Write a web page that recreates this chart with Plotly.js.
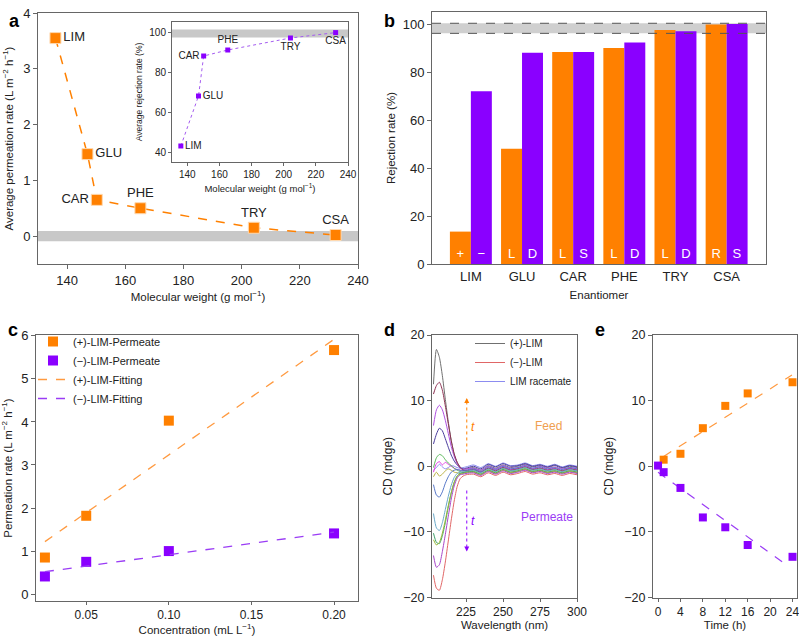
<!DOCTYPE html>
<html>
<head>
<meta charset="utf-8">
<script src="https://cdn.plot.ly/plotly-3.0.1.min.js"></script>
<style>
  body { margin: 0; background: #fff; }
  #fig { width: 799px; height: 636px; }
</style>
</head>
<body>
<div id="fig"></div>
<script>
// ---- panel a : permeation rate vs molecular weight ----
var molNames = ['LIM', 'GLU', 'CAR', 'PHE', 'TRY', 'CSA'];
var molWeight = [136, 147, 150.2, 165.2, 204.2, 232.3];
var avgPermeation = [3.55, 1.47, 0.65, 0.50, 0.15, 0.02];
// inset: average rejection rate
var avgRejection = [43, 68, 88, 91, 97, 99.7];

// ---- panel b : rejection of each enantiomer ----
var enantiomers = ['LIM', 'GLU', 'CAR', 'PHE', 'TRY', 'CSA'];
var rejOrange = [13.5, 48, 88.3, 90, 97.5, 99.8];
var rejPurple = [72, 88, 88.3, 92.3, 97, 100];
var labOrange = ['+', 'L', 'L', 'L', 'L', 'R'];
var labPurple = ['\u2212', 'D', 'S', 'D', 'D', 'S'];

// ---- panel c : permeation rate vs concentration ----
var conc = [0.025, 0.05, 0.10, 0.20];
var plusPerm = [0.85, 1.82, 4.03, 5.67];
var minusPerm = [0.41, 0.75, 1.00, 1.41];
var fitConc = [0.025, 0.20];
var plusFit = [1.22, 5.92];
var minusFit = [0.52, 1.44];

// ---- panel d : CD spectra ----
var wl = [203, 205, 207, 209, 211, 213, 215, 217, 219, 221, 223, 225, 230, 235, 240, 245, 250, 255, 260, 265, 270, 275, 280, 285, 290, 295, 300];
var cdPlusLim  = [12.5, 17.8, 16.6, 13.8, 10.2, 6.8, 3.9, 1.8, 0.6, -0.1, -0.5, -0.4, -0.2, -0.6, 0.1, -0.3, 0.2, -0.2, 0.0, 0.3, -0.1, 0.1, -0.2, 0.1, -0.3, 0.0, -0.2];
var cdMinusLim = [-16.6, -18.6, -18.9, -17.3, -14.6, -11.4, -8.2, -5.3, -3.1, -1.9, -1.5, -1.3, -1.2, -1.6, -1.0, -1.4, -0.9, -1.3, -1.1, -0.8, -1.2, -1.0, -1.3, -1.1, -1.4, -1.1, -1.3];
var cdRacemate = [-0.6, -0.2, 0.3, -0.1, -0.4, -0.2, 0.1, 0.0, -0.2, -0.3, -0.2, -0.1, 0.2, -0.2, 0.4, 0.0, 0.5, 0.1, 0.2, 0.5, 0.1, 0.3, 0.0, 0.3, -0.1, 0.2, 0.0];
var cdFeed2 = [11.0, 12.3, 12.8, 11.6, 9.2, 6.5, 3.9, 1.9, 0.6, -0.2, -0.6, -0.7, -0.5, -0.9, -0.3, -0.7, -0.2, -0.6, -0.4, -0.1, -0.5, -0.3, -0.6, -0.4, -0.7, -0.4, -0.6];
var cdFeed3 = [6.2, 8.6, 9.3, 8.6, 7.0, 5.0, 3.0, 1.5, 0.4, -0.2, -0.5, -0.4, -0.3, -0.6, 0.0, -0.4, 0.1, -0.3, -0.2, 0.2, -0.3, 0.0, -0.3, -0.1, -0.4, -0.2, -0.3];
var cdFeed4 = [3.4, 4.9, 5.8, 5.4, 4.2, 2.9, 1.7, 0.8, 0.2, -0.2, -0.4, -0.3, 0.0, -0.4, 0.3, -0.1, 0.4, 0.0, 0.1, 0.4, 0.0, 0.2, -0.1, 0.2, -0.2, 0.1, -0.1];
var cdFeed5 = [-0.2, 1.3, 1.8, 1.6, 1.0, 0.5, 0.1, -0.3, -0.6, -0.8, -0.9, -0.8, -0.6, -1.0, -0.4, -0.8, -0.3, -0.7, -0.5, -0.2, -0.6, -0.4, -0.7, -0.5, -0.8, -0.5, -0.7];
var cdFeed6 = [-0.9, 0.4, 0.7, 0.2, 0.6, 0.3, 0.0, -0.3, -0.5, -0.6, -0.7, -0.6, -0.4, -0.8, -0.2, -0.6, -0.1, -0.5, -0.3, 0.0, -0.4, -0.2, -0.5, -0.3, -0.6, -0.3, -0.5];
var cdFeed7 = [-1.6, -0.9, -1.5, -1.2, -0.7, -0.4, -0.6, -0.9, -1.0, -1.1, -1.0, -0.9, -0.8, -1.2, -0.6, -1.0, -0.5, -0.9, -0.7, -0.4, -0.8, -0.6, -0.9, -0.7, -1.0, -0.7, -0.9];
var cdPerm1 = [-2.8, -4.4, -4.7, -3.9, -2.6, -1.6, -0.9, -0.6, -0.5, -0.6, -0.7, -0.6, -0.4, -0.8, -0.1, -0.5, 0.0, -0.4, -0.2, 0.1, -0.3, -0.1, -0.4, -0.2, -0.5, -0.2, -0.4];
var cdPerm2 = [-7.2, -9.4, -9.8, -8.6, -6.6, -4.6, -2.9, -1.7, -1.1, -0.9, -0.9, -0.8, -0.6, -1.0, -0.4, -0.8, -0.3, -0.7, -0.5, -0.2, -0.6, -0.4, -0.7, -0.5, -0.8, -0.5, -0.7];
var cdPerm3 = [-10.2, -11.6, -11.8, -10.6, -8.6, -6.2, -4.1, -2.5, -1.5, -1.1, -1.0, -0.9, -0.8, -1.2, -0.6, -1.0, -0.5, -0.9, -0.7, -0.4, -0.8, -0.6, -0.9, -0.7, -1.0, -0.7, -0.9];
var cdPerm4 = [-11.2, -12.0, -11.6, -10.2, -8.2, -6.0, -4.0, -2.4, -1.5, -1.2, -1.1, -1.0, -0.9, -1.3, -0.7, -1.1, -0.6, -1.0, -0.8, -0.5, -0.9, -0.7, -1.0, -0.8, -1.1, -0.8, -1.0];
var cdPerm5 = [-13.6, -15.4, -15.0, -13.0, -10.4, -7.6, -5.0, -3.0, -1.8, -1.3, -1.2, -1.1, -1.0, -1.4, -0.8, -1.2, -0.7, -1.1, -0.9, -0.6, -1.0, -0.8, -1.1, -0.9, -1.2, -0.9, -1.1];

// ---- panel e : CD vs time ----
var timeFeed = [1, 4, 8, 12, 16, 24];
var cdFeedT = [1.0, 1.9, 5.8, 9.2, 11.1, 12.8];
var timePerm = [0, 1, 4, 8, 12, 16, 24];
var cdPermT = [0.1, -0.9, -3.3, -7.8, -9.3, -12.0, -13.8];
var fitFeedT = [1, 23.9];
var fitFeedY = [1.5, 13.9];
var fitPermT = [0, 23.2];
var fitPermY = [-0.9, -15.2];

var ORANGE = '#ff8000';
var PURPLE = '#8a00ff';
var AXC = '#666666';
var FONT = '"Liberation Sans", Arial, Helvetica, sans-serif';

// figure is 799 x 636 with zero margins -> domains from pixel boxes
function dx(a, b){ return [a / 799, b / 799]; }
function dy(top, bottom){ return [1 - bottom / 636, 1 - top / 636]; }

function axisStyle(extra){
	var ax = {
		showline: true, mirror: true, linecolor: AXC, linewidth: 1,
		ticks: 'outside', ticklen: 4, tickcolor: AXC,
		showgrid: false, zeroline: false, ticklabeloverflow: 'allow',
		tickfont: {size: 13, color: '#222'},
	};
	for (var k in extra) ax[k] = extra[k];
	return ax;
}

var traces = [];

// panel d legend traces first (primary legend)
traces.push({
	x: wl, y: cdPlusLim, xaxis: 'x5', yaxis: 'y5', type: 'scatter', mode: 'lines',
	name: '(+)-LIM', legend: 'legend', line: {color: '#707070', width: 1, shape: 'spline', smoothing: 0.6},
});
traces.push({
	x: wl, y: cdMinusLim, xaxis: 'x5', yaxis: 'y5', type: 'scatter', mode: 'lines',
	name: '(\u2212)-LIM', legend: 'legend', line: {color: '#e06666', width: 1, shape: 'spline', smoothing: 0.6},
});
traces.push({
	x: wl, y: cdRacemate, xaxis: 'x5', yaxis: 'y5', type: 'scatter', mode: 'lines',
	name: 'LIM racemate', legend: 'legend', line: {color: '#8c8cf0', width: 1, shape: 'spline', smoothing: 0.6},
});
var cdCurves = [
	[cdFeed7, '#b8b040'], [cdFeed6, '#e040e0'], [cdFeed5, '#5cb85c'], [cdFeed4, '#4a3c9c'],
	[cdFeed3, '#b050e0'], [cdFeed2, '#8b3050'], [cdPerm1, '#5878c8'], [cdPerm2, '#6aa8c8'],
	[cdPerm3, '#3fa06a'], [cdPerm4, '#9ab83a'], [cdPerm5, '#a845c8'],
];
for (var i = 0; i < cdCurves.length; i++){
	traces.push({
		x: wl, y: cdCurves[i][0], xaxis: 'x5', yaxis: 'y5', type: 'scatter', mode: 'lines',
		line: {color: cdCurves[i][1], width: 1, shape: 'spline', smoothing: 0.6}, showlegend: false,
	});
}

// panel a
traces.push({
	x: molWeight, y: avgPermeation, xaxis: 'x', yaxis: 'y',
	type: 'scatter', mode: 'lines+markers+text',
	text: molNames,
	textposition: ['middle right', 'middle right', 'middle left', 'top center', 'top center', 'top center'],
	textfont: {size: 13, color: '#222'},
	line: {color: ORANGE, width: 1.5, dash: 'dash'},
	marker: {symbol: 'square', size: 11, color: ORANGE, line: {color: '#ffd9b0', width: 1}},
	cliponaxis: false, showlegend: false,
});
// inset
traces.push({
	x: molWeight, y: avgRejection, xaxis: 'x2', yaxis: 'y2',
	type: 'scatter', mode: 'lines+markers+text',
	text: molNames,
	textposition: ['middle right', 'middle right', 'middle left', 'top center', 'bottom center', 'bottom center'],
	textfont: {size: 10, color: '#222'},
	line: {color: '#a45cf0', width: 1, dash: 'dot'},
	marker: {symbol: 'square', size: 5, color: PURPLE},
	cliponaxis: false, showlegend: false,
});

// panel b
traces.push({
	x: enantiomers, y: rejOrange, xaxis: 'x3', yaxis: 'y3', type: 'bar',
	marker: {color: ORANGE}, text: labOrange, textposition: 'inside',
	insidetextanchor: 'start', textangle: 0, constraintext: 'none',
	textfont: {color: '#ffffff', size: 13}, showlegend: false,
});
traces.push({
	x: enantiomers, y: rejPurple, xaxis: 'x3', yaxis: 'y3', type: 'bar',
	marker: {color: PURPLE}, text: labPurple, textposition: 'inside',
	insidetextanchor: 'start', textangle: 0, constraintext: 'none',
	textfont: {color: '#ffffff', size: 13}, showlegend: false,
});

// panel c
traces.push({
	x: conc, y: plusPerm, xaxis: 'x4', yaxis: 'y4', type: 'scatter', mode: 'markers',
	name: '(+)-LIM-Permeate', legend: 'legend2',
	marker: {symbol: 'square', size: 10, color: ORANGE},
});
traces.push({
	x: conc, y: minusPerm, xaxis: 'x4', yaxis: 'y4', type: 'scatter', mode: 'markers',
	name: '(\u2212)-LIM-Permeate', legend: 'legend2',
	marker: {symbol: 'square', size: 10, color: PURPLE},
});
traces.push({
	x: fitConc, y: plusFit, xaxis: 'x4', yaxis: 'y4', type: 'scatter', mode: 'lines',
	name: '(+)-LIM-Fitting', legend: 'legend2',
	line: {color: '#ff9a40', width: 1.3, dash: 'dash'},
});
traces.push({
	x: fitConc, y: minusFit, xaxis: 'x4', yaxis: 'y4', type: 'scatter', mode: 'lines',
	name: '(\u2212)-LIM-Fitting', legend: 'legend2',
	line: {color: '#9a3cf5', width: 1.3, dash: 'dash'},
});

// panel e
traces.push({
	x: fitFeedT, y: fitFeedY, xaxis: 'x6', yaxis: 'y6', type: 'scatter', mode: 'lines',
	line: {color: '#ff9a40', width: 1.2, dash: 'dash'}, showlegend: false,
});
traces.push({
	x: fitPermT, y: fitPermY, xaxis: 'x6', yaxis: 'y6', type: 'scatter', mode: 'lines',
	line: {color: '#9a3cf5', width: 1.2, dash: 'dash'}, showlegend: false,
});
traces.push({
	x: timeFeed, y: cdFeedT, xaxis: 'x6', yaxis: 'y6', type: 'scatter', mode: 'markers',
	marker: {symbol: 'square', size: 8, color: ORANGE}, showlegend: false, cliponaxis: false,
});
traces.push({
	x: timePerm, y: cdPermT, xaxis: 'x6', yaxis: 'y6', type: 'scatter', mode: 'markers',
	marker: {symbol: 'square', size: 8, color: PURPLE}, showlegend: false, cliponaxis: false,
});

var plotLayout = {
	width: 799, height: 636,
	margin: {l: 0, r: 0, t: 0, b: 0},
	paper_bgcolor: '#ffffff', plot_bgcolor: 'rgba(0,0,0,0)',
	font: {family: FONT, color: '#222', size: 13},
	barmode: 'group', bargap: 0.18, bargroupgap: 0,

	// a
	xaxis: axisStyle({
		domain: dx(38, 358), range: [130, 240], dtick: 20, anchor: 'y',
		title: {text: 'Molecular weight (g mol<sup>\u22121</sup>)', font: {size: 11.5}, standoff: 6},
	}),
	yaxis: axisStyle({
		domain: dy(13, 264), range: [-0.5, 4], dtick: 1, anchor: 'x',
		title: {text: 'Average permeation rate (L m<sup>\u22122</sup> h<sup>\u22121</sup>)', font: {size: 11.5}, standoff: 7},
	}),
	// inset
	xaxis2: axisStyle({
		domain: dx(172, 348), range: [130.5, 240], dtick: 20, anchor: 'y2', ticklen: 3,
		tickfont: {size: 10, color: '#222'},
		title: {text: 'Molecular weight (g mol<sup>\u22121</sup>)', font: {size: 9.5}, standoff: 6},
	}),
	yaxis2: axisStyle({
		domain: dy(22, 162), range: [35, 105], dtick: 20, anchor: 'x2', ticklen: 3,
		tickfont: {size: 10, color: '#222'},
		title: {text: 'Average rejection rate (%)', font: {size: 8.5}, standoff: 5},
	}),
	// b
	xaxis3: axisStyle({
		domain: dx(432, 766), range: [-0.76, 5.77], anchor: 'y3', ticks: '',
		title: {text: 'Enantiomer', font: {size: 11.5}, standoff: 8},
	}),
	yaxis3: axisStyle({
		domain: dy(12, 264), range: [0, 105], dtick: 20, anchor: 'x3',
		title: {text: 'Rejection rate (%)', font: {size: 11.5}, standoff: 4},
	}),
	// c
	xaxis4: axisStyle({
		domain: dx(36, 358), range: [0.0196, 0.2145], tickvals: [0.05, 0.10, 0.15, 0.20],
		tickformat: '.2f', anchor: 'y4', ticklen: 3,
		tickfont: {size: 12, color: '#222'},
		title: {text: 'Concentration (mL L<sup>\u22121</sup>)', font: {size: 11.5}, standoff: 0},
	}),
	yaxis4: axisStyle({
		domain: dy(335, 601), range: [-0.16, 6.02], dtick: 1, anchor: 'x4',
		title: {text: 'Permeation rate (L m<sup>\u22122</sup> h<sup>\u22121</sup>)', font: {size: 11.5}, standoff: 9},
	}),
	// d
	xaxis5: axisStyle({
		domain: dx(432, 577), range: [202, 300], dtick: 25, anchor: 'y5', ticklen: 3,
		tickfont: {size: 12, color: '#222'},
		title: {text: 'Wavelength (nm)', font: {size: 11.5}, standoff: 0},
	}),
	yaxis5: axisStyle({
		domain: dy(335, 597.5), range: [-20, 20], dtick: 10, anchor: 'x5',
		tickfont: {size: 12.5, color: '#222'},
		title: {text: 'CD (mdge)', font: {size: 12}, standoff: 8},
	}),
	// e
	xaxis6: axisStyle({
		domain: dx(653, 797), range: [-0.9, 24.8], dtick: 4, anchor: 'y6', ticklen: 3,
		tickfont: {size: 12, color: '#222'},
		title: {text: 'Time (h)', font: {size: 11.5}, standoff: 0},
	}),
	yaxis6: axisStyle({
		domain: dy(335, 597.5), range: [-20, 20], dtick: 10, anchor: 'x6',
		tickfont: {size: 12.5, color: '#222'},
		title: {text: 'CD (mdge)', font: {size: 12}, standoff: 8},
	}),

	// panel d legend
	legend: {
		x: 470 / 799, y: 1 - 329 / 636, xanchor: 'left', yanchor: 'top',
		bgcolor: 'rgba(0,0,0,0)', font: {size: 10}, tracegroupgap: 0,
		itemwidth: 30,
	},
	// panel c legend
	legend2: {
		x: 33 / 799, y: 1 - 327 / 636, xanchor: 'left', yanchor: 'top',
		bgcolor: 'rgba(0,0,0,0)', font: {size: 11}, tracegroupgap: 0,
		itemwidth: 30,
	},

	shapes: [
		// a: grey band around zero
		{type: 'rect', xref: 'x domain', yref: 'y', x0: 0, x1: 1, y0: -0.09, y1: 0.09,
			fillcolor: '#c8c8c8', line: {width: 0}, layer: 'below'},
		// inset band
		{type: 'rect', xref: 'x2 domain', yref: 'y2', x0: 0, x1: 1, y0: 97.2, y1: 101.3,
			fillcolor: '#c8c8c8', line: {width: 0}, layer: 'below'},
		// b band with dashed borders
		{type: 'rect', xref: 'x3 domain', yref: 'y3', x0: 0, x1: 1, y0: 96.1, y1: 100.3,
			fillcolor: '#cfcfcf', line: {width: 0}, layer: 'below'},
		{type: 'line', xref: 'x3 domain', yref: 'y3', x0: 0, x1: 1, y0: 100.3, y1: 100.3,
			line: {color: '#555', width: 1, dash: 'dash'}},
		{type: 'line', xref: 'x3 domain', yref: 'y3', x0: 0, x1: 1, y0: 96.1, y1: 96.1,
			line: {color: '#555', width: 1, dash: 'dash'}},
		// d: dotted time arrows
		{type: 'line', xref: 'x5', yref: 'y5', x0: 225.5, x1: 225.5, y0: 2.1, y1: 9.8,
			line: {color: ORANGE, width: 1, dash: 'dot'}},
		{type: 'line', xref: 'x5', yref: 'y5', x0: 225.5, x1: 225.5, y0: -3.7, y1: -12.4,
			line: {color: PURPLE, width: 1, dash: 'dot'}},
	],

	annotations: [
		{text: '<b>a</b>', xref: 'paper', yref: 'paper', x: 7 / 799, y: 1 - 9 / 636, showarrow: false, font: {size: 18, color: '#000'}},
		{text: '<b>b</b>', xref: 'paper', yref: 'paper', x: 389 / 799, y: 1 - 9 / 636, showarrow: false, font: {size: 18, color: '#000'}},
		{text: '<b>c</b>', xref: 'paper', yref: 'paper', x: 6 / 799, y: 1 - 330 / 636, showarrow: false, font: {size: 18, color: '#000'}},
		{text: '<b>d</b>', xref: 'paper', yref: 'paper', x: 389 / 799, y: 1 - 330 / 636, showarrow: false, font: {size: 18, color: '#000'}},
		{text: '<b>e</b>', xref: 'paper', yref: 'paper', x: 607 / 799, y: 1 - 330 / 636, showarrow: false, font: {size: 18, color: '#000'}},
		// arrow heads on the dotted lines
		{x: 225.5, y: 10.4, xref: 'x5', yref: 'y5', ax: 0, ay: 6, text: '', showarrow: true,
			arrowhead: 2, arrowsize: 1, arrowwidth: 1, arrowcolor: ORANGE},
		{x: 225.5, y: -13, xref: 'x5', yref: 'y5', ax: 0, ay: -6, text: '', showarrow: true,
			arrowhead: 2, arrowsize: 1, arrowwidth: 1, arrowcolor: PURPLE},
		{x: 229.5, y: 6, xref: 'x5', yref: 'y5', text: '<i>t</i>', showarrow: false, font: {size: 12, color: ORANGE}},
		{x: 229.5, y: -8.4, xref: 'x5', yref: 'y5', text: '<i>t</i>', showarrow: false, font: {size: 12, color: PURPLE}},
		{x: 281, y: 6.1, xref: 'x5', yref: 'y5', text: 'Feed', showarrow: false, font: {size: 12, color: '#f0a050'}},
		{x: 280, y: -7.8, xref: 'x5', yref: 'y5', text: 'Permeate', showarrow: false, font: {size: 12, color: '#9a3cf5'}},
	],
};

var fig = document.getElementById('fig');
Plotly.newPlot(fig, traces, plotLayout, {displayModeBar: false, staticPlot: true});
</script>
</body>
</html>
